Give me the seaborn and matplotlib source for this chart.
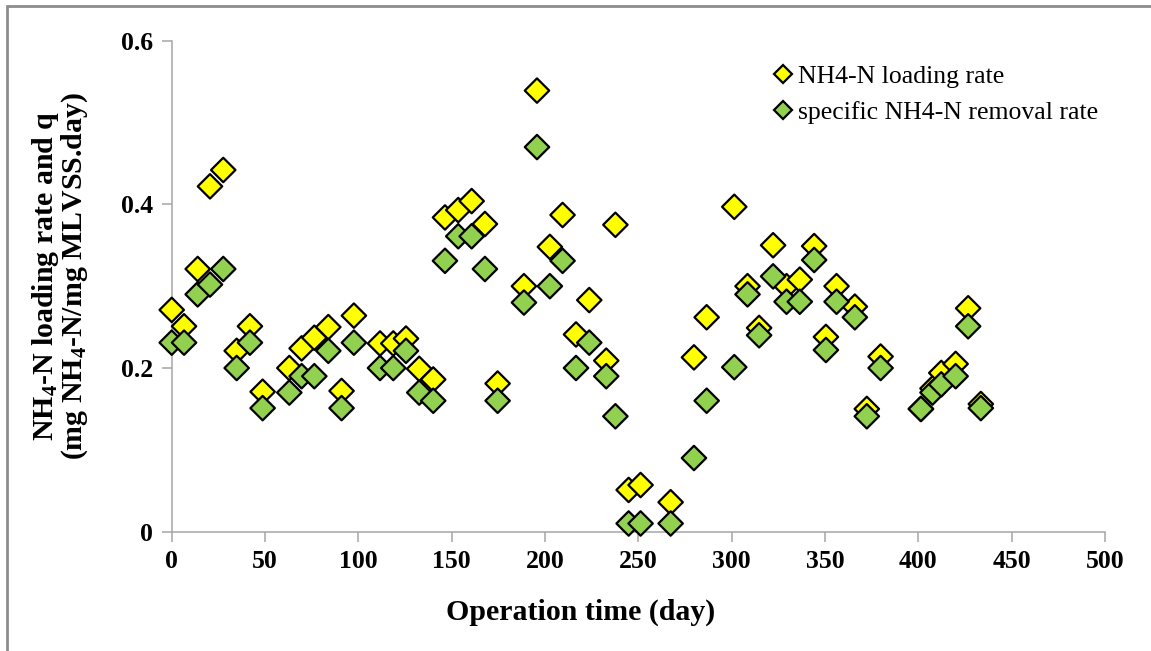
import matplotlib
matplotlib.use("Agg")
import matplotlib.pyplot as plt
import seaborn as sns
import pandas as pd
from matplotlib.patches import Rectangle

# ---- data ----
days = [0, 6.6, 13.9, 20.5, 27.6, 34.8, 41.9, 48.7, 63, 69.6, 76.4, 83.9, 91, 97.6,
        111.6, 118.7, 125.5, 132.6, 140.1, 146.4, 153.5, 160.7, 167.8, 174.6, 188.7,
        195.7, 202.6, 209.4, 216.6, 223.7, 232.8, 237.7, 244.8, 251.2, 267.3, 279.8,
        286.6, 301.4, 308.5, 314.7, 322.2, 329.4, 336.5, 344.2, 350.5, 356.2, 366,
        372.4, 379.8, 401.4, 407.6, 412.3, 420, 426.7, 433.5]
loading_rate = [0.271, 0.251, 0.321, 0.422, 0.442, 0.221, 0.251, 0.171, 0.200, 0.224,
                0.237, 0.250, 0.172, 0.264, 0.230, 0.230, 0.236, 0.199, 0.186, 0.384,
                0.393, 0.404, 0.376, 0.181, 0.300, 0.539, 0.348, 0.387, 0.241, 0.283,
                0.209, 0.375, 0.051, 0.057, 0.036, 0.213, 0.262, 0.397, 0.300, 0.249,
                0.350, 0.300, 0.308, 0.349, 0.238, 0.300, 0.275, 0.150, 0.214, 0.150,
                0.175, 0.194, 0.205, 0.273, 0.156]
removal_rate = [0.231, 0.231, 0.290, 0.302, 0.321, 0.200, 0.231, 0.151, 0.170, 0.190,
                0.190, 0.221, 0.151, 0.231, 0.200, 0.200, 0.221, 0.170, 0.160, 0.331,
                0.361, 0.361, 0.321, 0.160, 0.280, 0.470, 0.300, 0.331, 0.200, 0.231,
                0.190, 0.141, 0.010, 0.010, 0.010, 0.090, 0.160, 0.201, 0.290, 0.240,
                0.312, 0.281, 0.281, 0.332, 0.222, 0.281, 0.262, 0.141, 0.200, 0.150,
                0.170, 0.180, 0.190, 0.251, 0.151]
series_names = ["NH4-N loading rate", "specific NH4-N removal rate"]
series_colors = ["#FFFF00", "#92D050"]
x_title = "Operation time (day)"
y_title = "NH$_4$-N loading rate and q\n(mg NH$_4$-N/mg MLVSS.day)"

df = pd.DataFrame({
    "day": days * 2,
    "value": loading_rate + removal_rate,
    "series": [series_names[0]] * len(days) + [series_names[1]] * len(days),
})

sns.set_theme(style="white")
plt.rcParams["font.family"] = ["Liberation Serif", "DejaVu Serif"]
plt.rcParams["mathtext.fontset"] = "custom"
plt.rcParams["mathtext.rm"] = "Liberation Serif:bold"
plt.rcParams["mathtext.it"] = "Liberation Serif:bold"
plt.rcParams["mathtext.bf"] = "Liberation Serif:bold"
plt.rcParams["mathtext.default"] = "rm"
plt.rcParams["text.color"] = "black"
plt.rcParams["axes.labelcolor"] = "black"
plt.rcParams["xtick.color"] = "black"
plt.rcParams["ytick.color"] = "black"

W, H = 1151, 651
fig = plt.figure(figsize=(W / 100, H / 100), dpi=100)
ax = fig.add_axes([0.1492, 0.1833, 0.8108, 0.7542])

sns.scatterplot(data=df, x="day", y="value", hue="series", hue_order=series_names,
                palette=series_colors, marker="D", s=155, edgecolor="black",
                linewidth=1.6, ax=ax, legend=True, zorder=3, clip_on=False)

ax.set_xlim(0, 500)
ax.set_ylim(0, 0.6)
ax.set_xticks([0, 50, 100, 150, 200, 250, 300, 350, 400, 450, 500])
ax.set_yticks([0, 0.2, 0.4, 0.6])
ax.set_yticklabels(["0", "0.2", "0.4", "0.6"])
for lab in ax.get_xticklabels() + ax.get_yticklabels():
    lab.set_fontweight("bold")
    lab.set_fontsize(18.5)
    lab.set_color("black")

for s in ["top", "right"]:
    ax.spines[s].set_visible(False)
for s in ["left", "bottom"]:
    ax.spines[s].set_color("#A6A6A6")
    ax.spines[s].set_linewidth(1.1)
ax.tick_params(axis="both", which="major", direction="out", length=7.5, width=1.1,
               color="#A6A6A6", labelcolor="black", pad=6, left=True, bottom=True)
ax.grid(False)

ax.set_xlabel("")
ax.set_ylabel("")
fig.text(581 / W, 1 - 612 / H, x_title, fontsize=21.5, fontweight="bold",
         ha="center", va="center", color="black")
fig.text(60 / W, 1 - 276 / H, y_title, fontsize=21.5, fontweight="bold",
         ha="center", va="center", rotation=90, multialignment="center",
         linespacing=0.95, color="black")

leg = ax.legend(loc="upper right", bbox_to_anchor=(1.004, 0.972), frameon=False,
                fontsize=18.5, handlelength=0.8, handletextpad=0.2, borderaxespad=0.0,
                labelspacing=0.5, markerscale=0.75)
for t in leg.get_texts():
    t.set_color("black")
for h in leg.legend_handles:
    try:
        h.set_markeredgecolor("black")
    except AttributeError:
        h.set_edgecolor("black")

# outer frame
fig.patches.append(Rectangle((7 / W, -0.1), 1.2, (H - 6) / H + 0.1,
                             transform=fig.transFigure, fill=False,
                             edgecolor="#8C8C8C", linewidth=2.0))

fig.savefig("out.png", dpi=100)
